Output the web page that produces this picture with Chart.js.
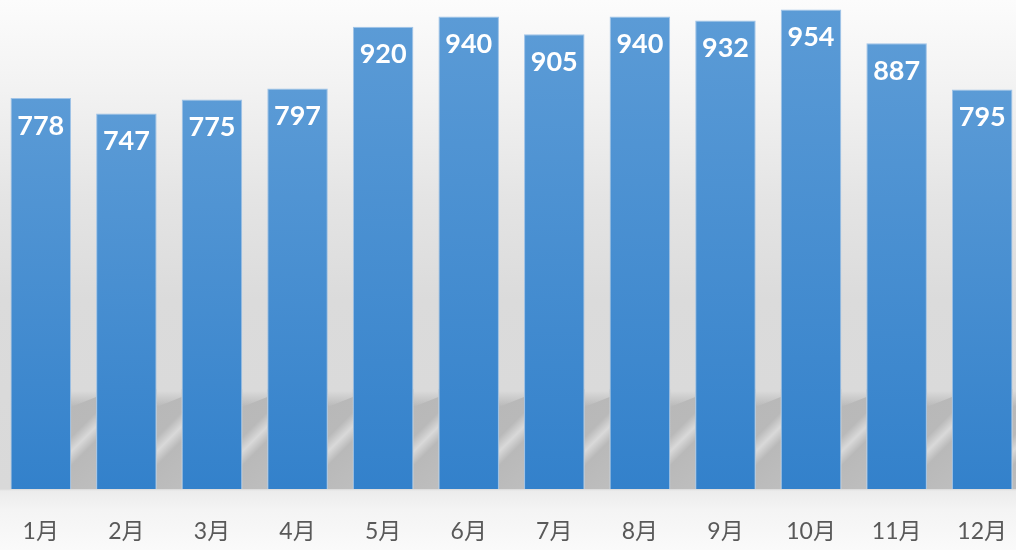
<!DOCTYPE html>
<html>
<head>
<meta charset="utf-8">
<script src="https://cdn.jsdelivr.net/npm/chart.js@4.4.1/dist/chart.umd.min.js"></script>
<style>
  html, body { margin: 0; padding: 0; }
  body {
    width: 1016px; height: 550px; overflow: hidden; position: relative;
    background: linear-gradient(to bottom, #fcfcfc 0px, #f2f2f2 90px, #e4e4e4 200px, #dbdbdb 300px, #d9d9d9 489px, #ececec 491px, #f4f4f4 510px, #fafafa 550px);
  }
  #wrap { position: absolute; left: -2px; top: 0; width: 1027px; height: 550px; }
</style>
</head>
<body>
<div id="wrap"><canvas id="chart"></canvas></div>
<script>
const categories = ['1月', '2月', '3月', '4月', '5月', '6月', '7月', '8月', '9月', '10月', '11月', '12月'];
const values = [778, 747, 775, 797, 920, 940, 905, 940, 932, 954, 887, 795];
const yMax = 973;

// shadows cast to the right of every bar, drawn before the bars
const floorShadow = {
    id: 'floorShadow',
    beforeDatasetsDraw(chart) {
        const ctx = chart.ctx;
        const bars = chart.getDatasetMeta(0).data;
        ctx.save();
        bars.forEach((bar, i) => {
            const x0 = bar.x + bar.width / 2;
            const next = bars[i + 1] || bars[i - 1];
            const gap = Math.abs(next.x - bar.x) - bar.width;
            const base = bar.base;
            const cx = x0 + gap / 2, cy = base - 50;
            const g = ctx.createLinearGradient(cx - 45, cy - 45, cx + 45, cy + 45);
            g.addColorStop(0, '#b7b7b7');
            g.addColorStop(0.42, '#b9b9b9');
            g.addColorStop(0.5, '#d9d9d9');
            g.addColorStop(0.58, '#b9b9b9');
            g.addColorStop(0.85, '#bebebe');
            g.addColorStop(1, '#c8c8c8');
            ctx.fillStyle = g;
            ctx.fillRect(x0, base - 100, gap, 100);
            const f = ctx.createLinearGradient(0, base - 98, 0, base - 82);
            f.addColorStop(0, 'rgba(218,218,218,1)');
            f.addColorStop(1, 'rgba(218,218,218,0)');
            ctx.fillStyle = f;
            ctx.beginPath();
            ctx.moveTo(x0, base - 100);
            ctx.lineTo(x0 + gap, base - 100);
            ctx.lineTo(x0 + gap, base - 92);
            ctx.lineTo(x0, base - 82);
            ctx.closePath();
            ctx.fill();
        });
        ctx.restore();
    }
};

const valueLabels = {
    id: 'valueLabels',
    afterDatasetsDraw(chart) {
        const ctx = chart.ctx;
        ctx.save();
        ctx.fillStyle = '#ffffff';
        ctx.font = 'bold 27px Lato, "DejaVu Sans", sans-serif';
        ctx.textAlign = 'center';
        ctx.textBaseline = 'middle';
        chart.getDatasetMeta(0).data.forEach((bar, i) => {
            ctx.fillText(String(values[i]), bar.x, bar.y + 28);
        });
        ctx.restore();
    }
};

const ctx = document.getElementById('chart').getContext('2d');
new Chart(ctx, {
    type: 'bar',
    data: {
        labels: categories,
        datasets: [{
            data: values,
            backgroundColor: function (c) {
                const chart = c.chart;
                if (!chart.chartArea || c.raw === undefined) return '#4a8fd2';
                const top = chart.scales.y.getPixelForValue(c.raw);
                const bottom = chart.scales.y.getPixelForValue(0);
                const g = chart.ctx.createLinearGradient(0, top, 0, bottom);
                g.addColorStop(0, '#5b9bd6');
                g.addColorStop(1, '#3381cb');
                return g;
            },
            borderColor: 'rgba(150,190,230,0.9)',
            borderWidth: 1,
            barPercentage: 0.707,
            categoryPercentage: 1
        }]
    },
    options: {
        responsive: true,
        maintainAspectRatio: false,
        animation: false,
        layout: { padding: 0 },
        plugins: {
            legend: { display: false },
            tooltip: { enabled: false }
        },
        scales: {
            x: {
                grid: { display: false, drawTicks: false, tickLength: 0 },
                border: { display: false },
                afterFit: function (scale) { scale.height = 61; },
                ticks: {
                    color: '#595959',
                    padding: 0,
                    maxRotation: 0,
                    minRotation: 0,
                    autoSkip: false,
                    font: { family: 'Lato, "Noto Sans CJK SC", sans-serif', size: 23, lineHeight: 3.74 }
                }
            },
            y: {
                display: false,
                min: 0,
                max: yMax
            }
        }
    },
    plugins: [floorShadow, valueLabels]
});
</script>
</body>
</html>
